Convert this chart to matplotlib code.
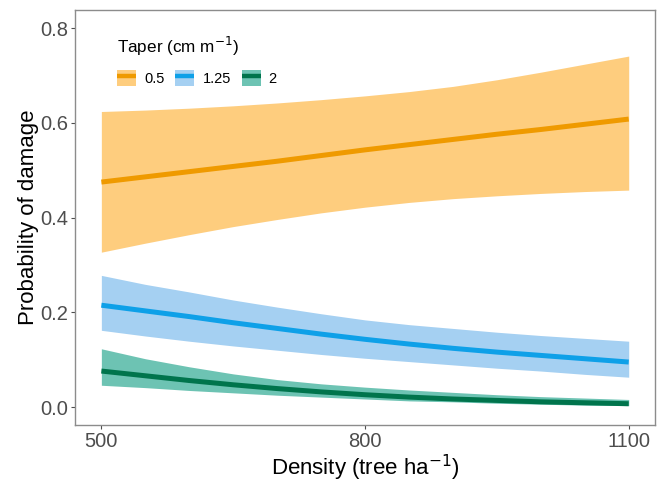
import numpy as np
from matplotlib import pyplot as plt
from matplotlib.patches import Patch
from matplotlib.lines import Line2D

# values
density = [500, 550, 600, 650, 700, 750, 800, 850, 900, 950, 1000, 1050, 1100]
tapers = ['0.5', '1.25', '2']

fit_05 = [0.475, 0.486, 0.497, 0.508, 0.519, 0.531, 0.543, 0.554, 0.565, 0.576, 0.586, 0.597, 0.608]
low_05 = [0.327, 0.346, 0.364, 0.381, 0.396, 0.410, 0.422, 0.432, 0.440, 0.446, 0.451, 0.455, 0.458]
up_05 = [0.624, 0.627, 0.631, 0.636, 0.642, 0.649, 0.657, 0.666, 0.677, 0.691, 0.707, 0.724, 0.741]

fit_125 = [0.215, 0.203, 0.191, 0.178, 0.166, 0.154, 0.143, 0.133, 0.124, 0.116, 0.109, 0.102, 0.095]
low_125 = [0.162, 0.150, 0.139, 0.129, 0.120, 0.111, 0.103, 0.096, 0.089, 0.082, 0.076, 0.069, 0.063]
up_125 = [0.278, 0.259, 0.243, 0.226, 0.211, 0.197, 0.184, 0.174, 0.166, 0.158, 0.151, 0.145, 0.139]

fit_2 = [0.076, 0.066, 0.056, 0.047, 0.039, 0.032, 0.026, 0.021, 0.017, 0.014, 0.011, 0.009, 0.007]
low_2 = [0.046, 0.041, 0.035, 0.030, 0.025, 0.021, 0.017, 0.013, 0.011, 0.008, 0.006, 0.004, 0.003]
up_2 = [0.123, 0.102, 0.085, 0.070, 0.058, 0.049, 0.042, 0.036, 0.031, 0.026, 0.022, 0.019, 0.016]

fits = [fit_05, fit_125, fit_2]
lows = [low_05, low_125, low_2]
ups = [up_05, up_125, up_2]

line_cols = ['#EF9A00', '#0EA0E8', '#00744C']
fill_cols = ['#FECD7E', '#A5D0F2', '#6DC3B3']

plt.rcParams['font.family'] = ['Liberation Sans', 'DejaVu Sans']

fig = plt.figure(figsize=(6.66, 4.83), dpi=100)
ax = fig.add_axes([0.1126, 0.12, 0.871, 0.859])

for i in range(len(tapers)):
    ax.fill_between(density, lows[i], ups[i], color=fill_cols[i], lw=0)
    ax.plot(density, fits[i], color=line_cols[i], lw=3.6, solid_capstyle='butt')

ax.set_xlim(470, 1130)
ax.set_ylim(-0.038, 0.838)
ax.set_xticks([500, 800, 1100])
ax.set_yticks([0.0, 0.2, 0.4, 0.6, 0.8])
ax.set_yticklabels(['0.0', '0.2', '0.4', '0.6', '0.8'])
ax.tick_params(labelsize=14.5, colors='#4D4D4D', length=3, width=0.8, pad=2)
for s in ax.spines.values():
    s.set_color('#8C8C8C')
    s.set_linewidth(1.0)

ax.set_xlabel('Density (tree ha$^{-1}$)', fontsize=16, labelpad=1)
ax.set_ylabel('Probability of damage', fontsize=16, labelpad=1)

# legend keys: ribbon patch with the fitted line on top
handles = []
for i in range(len(tapers)):
    handles.append((Patch(facecolor=fill_cols[i], edgecolor='none'),
                    Line2D([], [], color=line_cols[i], lw=3.2, solid_capstyle='butt')))
leg = ax.legend(handles, tapers, ncol=3, loc='upper left',
                bbox_to_anchor=(0.055, 0.966), frameon=False,
                title='Taper (cm m$^{-1}$)', title_fontsize=12.3, fontsize=10.5,
                alignment='left', handlelength=1.3, handleheight=1.3,
                columnspacing=0.75, handletextpad=0.55, borderaxespad=0.3,
                labelspacing=0.85)

fig.savefig('out.png', dpi=100)
